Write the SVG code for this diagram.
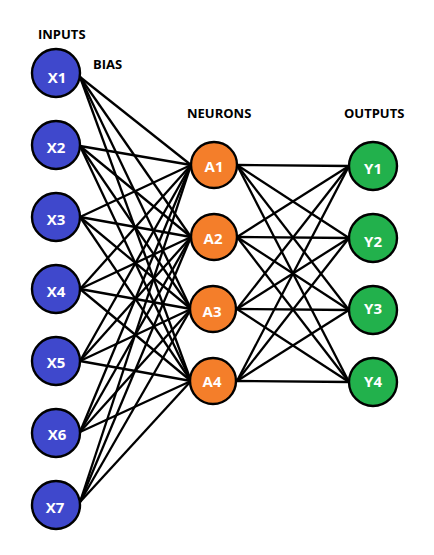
<svg xmlns="http://www.w3.org/2000/svg" width="434" height="555" viewBox="0 0 434 555">
<style>
.h{font-family:"Open Sans","Liberation Sans",sans-serif;font-weight:bold;font-size:13px;fill:#000}
.n{stroke:#000;stroke-width:2.4}
.in{fill:#3f48cc}.hid{fill:#f47e2a}.out{fill:#22b14c}
.t{font-family:"Open Sans","Liberation Sans",sans-serif;font-weight:bold;font-size:15px;fill:#fff;text-anchor:middle;dominant-baseline:central}
#connectors line{stroke:#000;stroke-width:2.3}
</style>
<rect width="434" height="555" fill="#fff"/>
<text class="h" x="38" y="39">INPUTS</text>
<text class="h" x="93" y="69">BIAS</text>
<text class="h" x="187" y="118">NEURONS</text>
<text class="h" x="344" y="118">OUTPUTS</text>
<g id="connectors">
<line x1="80" y1="77" x2="191" y2="165"/><line x1="80" y1="77" x2="191" y2="237"/><line x1="80" y1="77" x2="191" y2="309"/><line x1="80" y1="77" x2="191" y2="381"/>
<line x1="80" y1="146" x2="191" y2="165"/><line x1="80" y1="146" x2="191" y2="237"/><line x1="80" y1="146" x2="191" y2="309"/><line x1="80" y1="146" x2="191" y2="381"/>
<line x1="80" y1="217" x2="191" y2="165"/><line x1="80" y1="217" x2="191" y2="237"/><line x1="80" y1="217" x2="191" y2="309"/><line x1="80" y1="217" x2="191" y2="381"/>
<line x1="80" y1="289" x2="191" y2="165"/><line x1="80" y1="289" x2="191" y2="237"/><line x1="80" y1="289" x2="191" y2="309"/><line x1="80" y1="289" x2="191" y2="381"/>
<line x1="80" y1="361" x2="191" y2="165"/><line x1="80" y1="361" x2="191" y2="237"/><line x1="80" y1="361" x2="191" y2="309"/><line x1="80" y1="361" x2="191" y2="381"/>
<line x1="80" y1="432" x2="191" y2="165"/><line x1="80" y1="432" x2="191" y2="237"/><line x1="80" y1="432" x2="191" y2="309"/><line x1="80" y1="432" x2="191" y2="381"/>
<line x1="80" y1="502" x2="191" y2="165"/><line x1="80" y1="502" x2="191" y2="237"/><line x1="80" y1="502" x2="191" y2="309"/><line x1="80" y1="502" x2="191" y2="381"/>
<line x1="237" y1="165" x2="349" y2="166"/><line x1="237" y1="165" x2="349" y2="238"/><line x1="237" y1="165" x2="349" y2="310"/><line x1="237" y1="165" x2="349" y2="382"/>
<line x1="237" y1="237" x2="349" y2="166"/><line x1="237" y1="237" x2="349" y2="238"/><line x1="237" y1="237" x2="349" y2="310"/><line x1="237" y1="237" x2="349" y2="382"/>
<line x1="237" y1="309" x2="349" y2="166"/><line x1="237" y1="309" x2="349" y2="238"/><line x1="237" y1="309" x2="349" y2="310"/><line x1="237" y1="309" x2="349" y2="382"/>
<line x1="237" y1="381" x2="349" y2="166"/><line x1="237" y1="381" x2="349" y2="238"/><line x1="237" y1="381" x2="349" y2="310"/><line x1="237" y1="381" x2="349" y2="382"/>
</g>
<g id="X1"><circle class="n in" cx="56" cy="73" r="24"/><text class="t" x="57" y="77">X1</text></g>
<g id="X2"><circle class="n in" cx="56" cy="145" r="24"/><text class="t" x="56" y="147">X2</text></g>
<g id="X3"><circle class="n in" cx="56" cy="217" r="24"/><text class="t" x="56" y="219">X3</text></g>
<g id="X4"><circle class="n in" cx="56" cy="289" r="24"/><text class="t" x="56" y="291">X4</text></g>
<g id="X5"><circle class="n in" cx="56" cy="361" r="24"/><text class="t" x="56" y="362">X5</text></g>
<g id="X6"><circle class="n in" cx="56" cy="433" r="24"/><text class="t" x="57" y="434">X6</text></g>
<g id="X7"><circle class="n in" cx="56" cy="505" r="24"/><text class="t" x="55" y="507">X7</text></g>
<g id="A1"><circle class="n hid" cx="214" cy="165" r="23"/><text class="t" x="214" y="166">A1</text></g>
<g id="A2"><circle class="n hid" cx="214" cy="237" r="23"/><text class="t" x="213" y="238">A2</text></g>
<g id="A3"><circle class="n hid" cx="213" cy="309" r="23"/><text class="t" x="212" y="311">A3</text></g>
<g id="A4"><circle class="n hid" cx="213" cy="381" r="23"/><text class="t" x="212" y="381">A4</text></g>
<g id="Y1"><circle class="n out" cx="373" cy="166" r="24"/><text class="t" x="373" y="168">Y1</text></g>
<g id="Y2"><circle class="n out" cx="373" cy="238" r="24"/><text class="t" x="373" y="241">Y2</text></g>
<g id="Y3"><circle class="n out" cx="373" cy="310" r="24"/><text class="t" x="373" y="308">Y3</text></g>
<g id="Y4"><circle class="n out" cx="373" cy="382" r="24"/><text class="t" x="373" y="381">Y4</text></g>
</svg>
